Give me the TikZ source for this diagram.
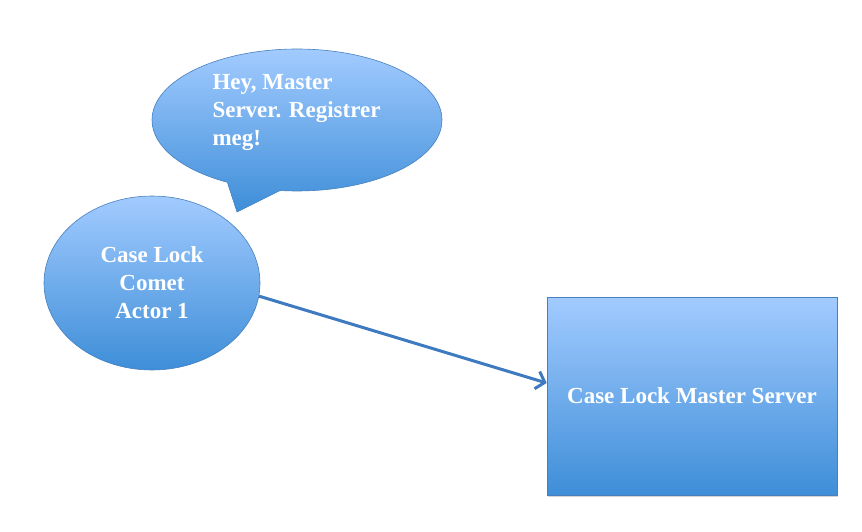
\documentclass[tikz,border=0pt]{standalone}
\usepackage{fontspec}
\setmainfont{Liberation Serif}
\usetikzlibrary{shapes.geometric,shapes.callouts,arrows.meta,shadows}
\definecolor{fillTop}{RGB}{162,203,255}
\definecolor{fillBot}{RGB}{62,142,216}
\definecolor{edgeBlue}{RGB}{72,128,190}
\definecolor{arrowBlue}{RGB}{62,122,192}
\tikzset{
  blueshade/.style={top color=fillTop, bottom color=fillBot, draw=edgeBlue, line width=0.6pt},
  txt/.style={text=white, font=\bfseries\fontsize{23}{28}\selectfont},
  bubble/.style={ellipse callout, blueshade, inner sep=0pt, minimum width=290pt, minimum height=142pt, callout pointer arc=22},
  actor/.style={ellipse, blueshade, inner sep=0pt, minimum width=216pt, minimum height=174pt, txt, align=center},
  serverbox/.style={rectangle, blueshade, inner sep=0pt, minimum width=290pt, minimum height=198pt, txt, drop shadow={shadow xshift=0.5pt, shadow yshift=-2pt, opacity=0.35}},
  conn/.style={draw=arrowBlue, line width=3pt, -{Straight Barb[length=8pt, width=18pt, line width=3pt]}}
}
\begin{document}
\begin{tikzpicture}[x=1pt, y=-1pt]
\useasboundingbox (0,0) rectangle (862,532);
\node[bubble, callout absolute pointer={(237,212)}] (bubble) at (297,120) {};
\node[txt, align=left, anchor=west] (bubbletext) at (209,113) {Hey, Master\\Server. Registrer\\meg!};
\node[actor] (actor) at (152,283) {Case Lock\\Comet\\Actor 1};
\node[serverbox] (server) at (692,396) {Case Lock Master Server};
\draw[conn] (actor.-7) -- ([yshift=13pt]server.west);
\end{tikzpicture}
\end{document}
